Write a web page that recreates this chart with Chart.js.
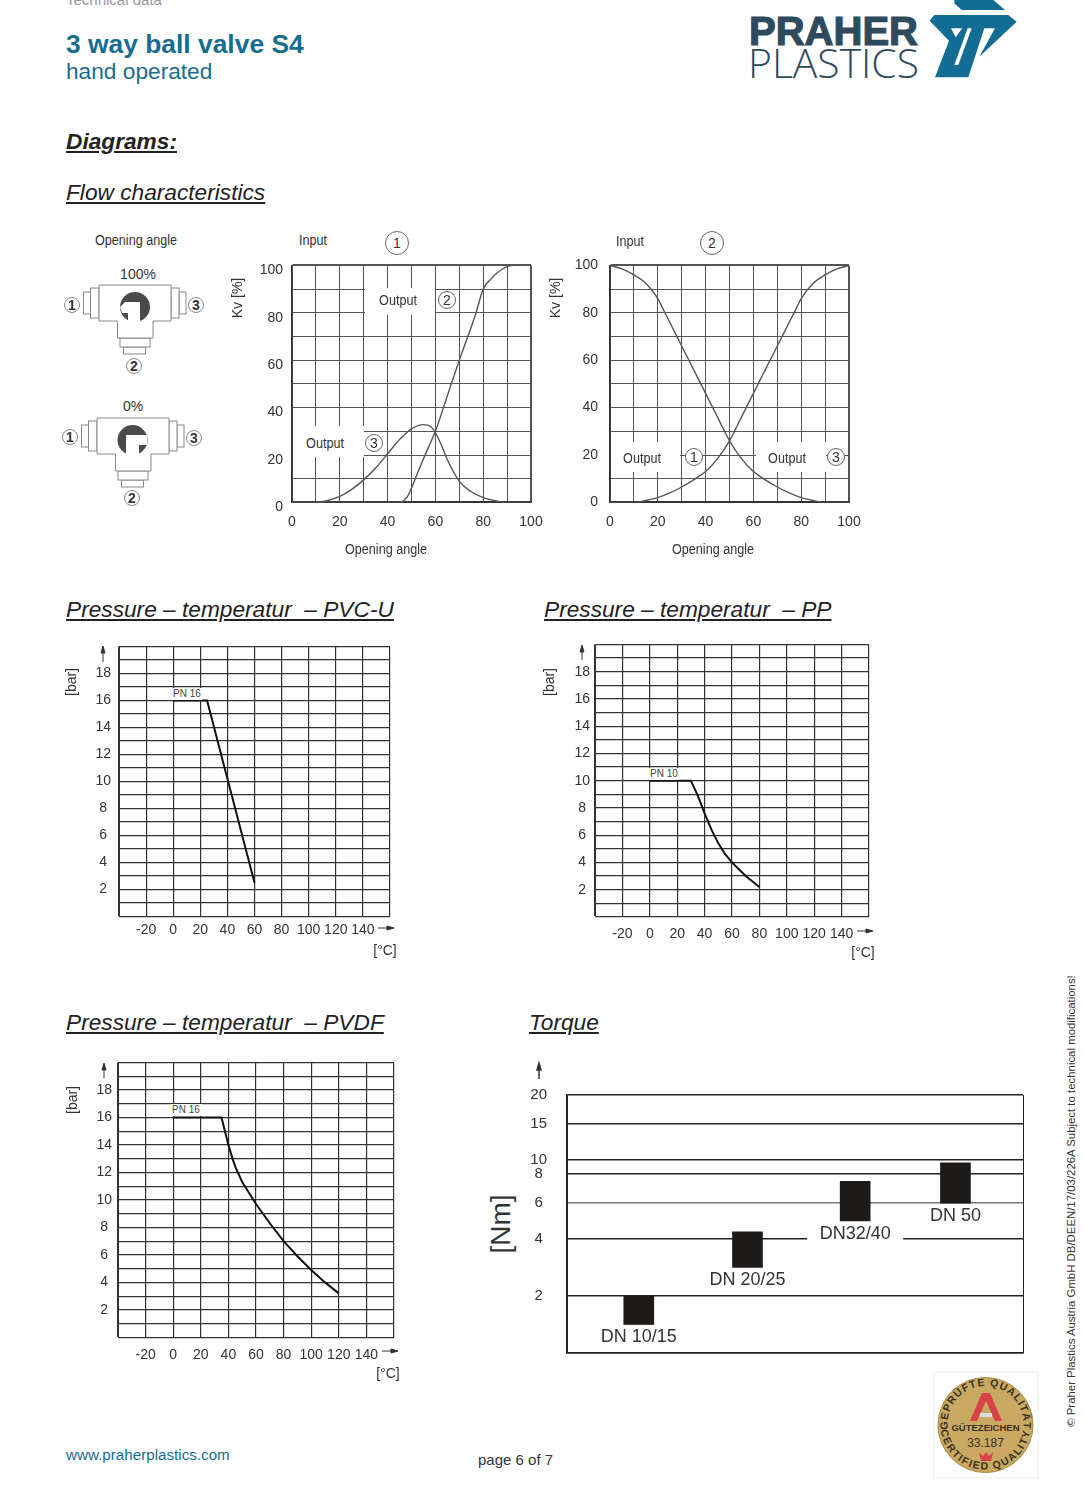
<!DOCTYPE html>
<html>
<head>
<meta charset="utf-8">
<title>3 way ball valve S4</title>
<script src="https://cdn.jsdelivr.net/npm/chart.js@4/dist/chart.umd.js"></script>
<style>
html, body { margin: 0; background: #fff; }
#page { position: relative; width: 1085px; height: 1509px; overflow: hidden; font-family: "Liberation Sans", Arial, sans-serif; color: #333; }
#page canvas { position: absolute; }
.t { position: absolute; white-space: nowrap; line-height: 1; transform: translate(-50%, -50%); }
.l { position: absolute; white-space: nowrap; line-height: 1; }
.head { font-size: 22.7px; font-style: italic; text-decoration: underline; color: #222; }
.small { font-size: 14px; transform: translate(-50%, -50%) scaleX(.9); }
.rot { font-size: 14px; transform: translate(-50%, -50%) rotate(-90deg); }
.box { position: absolute; background: #fff; }
.num { position: absolute; box-sizing: border-box; border: 1px solid #666; border-radius: 50%; background: #fff; text-align: center; font-size: 14px; }
.pn { position: absolute; box-sizing: border-box; padding-left: 1px; background: #fff; font-size: 10px; line-height: 12px; color: #444; white-space: nowrap; }
svg { position: absolute; left: 0; top: 0; }
</style>
</head>
<body>
<div id="page">
  <div class="l" style="left:66px;top:-8px;font-size:15px;color:#999">Technical data</div>
  <div class="l" style="left:66px;top:31px;font-size:26.400px;font-weight:bold;color:#176d90">3 way ball valve S4</div>
  <div class="l" style="left:66px;top:60px;font-size:22.700px;color:#176d90">hand operated</div>
  <div class="l head" style="left:66px;top:130px;font-weight:bold">Diagrams:</div>
  <div class="l head" style="left:66px;top:181px">Flow characteristics</div>
  <div class="l head" style="left:66px;top:598px">Pressure – temperatur&nbsp; – PVC-U</div>
  <div class="l head" style="left:544px;top:598px">Pressure – temperatur&nbsp; – PP</div>
  <div class="l head" style="left:66px;top:1011px">Pressure – temperatur&nbsp; – PVDF</div>
  <div class="l head" style="left:529px;top:1011px">Torque</div>

  <svg width="1085" height="1509" viewBox="0 0 1085 1509">
    <defs>
      <g id="valve" fill="#fff" stroke="#888" stroke-width="1">
        <rect x="83.5" y="292" width="7" height="22"/>
        <rect x="90.5" y="288" width="8.5" height="30"/>
        <rect x="179" y="292" width="7" height="22"/>
        <rect x="171" y="288" width="8" height="30"/>
        <rect x="123.5" y="347" width="22" height="7"/>
        <rect x="120" y="338" width="30" height="9"/>
        <path d="M99 285H171V321H153V338H117.500V321H99Z"/>
      </g>
      <path id="arcTop" d="M948 1430A38 38 0 1 1 1023 1430"/>
      <path id="arcBot" d="M941 1418A45 45 0 1 0 1030 1418"/>
    </defs>

    <use href="#valve"/>
    <circle cx="135" cy="307" r="15" fill="#4a4a4a"/>
    <path d="M125 302H140V322H128V313H122L120 307Z" fill="#fff"/>
    <use href="#valve" x="-2" y="133"/>
    <circle cx="132.500" cy="440" r="15" fill="#4a4a4a"/>
    <path d="M126 435H147V445H139V455H126Z" fill="#fff"/>

    <g fill="#2f4a5c">
      <text x="749" y="45" font-family="Liberation Sans" font-size="41" font-weight="bold" stroke="#2f4a5c" stroke-width="1.200" textLength="169" lengthAdjust="spacingAndGlyphs">PRAHER</text>
      <text x="748" y="78" font-family="Open Sans" font-size="40" font-weight="300" textLength="171" lengthAdjust="spacingAndGlyphs">PLASTICS</text>
    </g>
    <g fill="#136c94" transform="translate(925 0) scale(.3333)">
      <path d="M88 0H205L240 30H110L88 10Z"/>
      <path d="M14 62L28 45H250L275 65L163 170L210 85H178L130 232H30L72 122Z"/>
      <path d="M78 85H112L92 112Z" fill="#fff"/>
      <path d="M128 85H140L100 195H88Z" fill="#fff"/>
    </g>

    <rect x="934" y="1372" width="104" height="106" fill="#fff" stroke="#eee"/>
    <circle cx="985.500" cy="1425" r="47.500" fill="#c9a961" stroke="#a88a45"/>
    <g font-family="Liberation Sans" font-weight="bold" font-size="10.500" fill="#3a3220" text-anchor="middle">
      <text letter-spacing="1"><textPath href="#arcTop" startOffset="50%">GEPRÜFTE QUALITÄT</textPath></text>
      <text letter-spacing="1.500"><textPath href="#arcBot" startOffset="50%">CERTIFIED QUALITY</textPath></text>
      <text x="985.500" y="1431" font-size="9.500">GÜTEZEICHEN</text>
      <text x="985.500" y="1447" font-size="12" font-weight="normal">33.187</text>
    </g>
    <path d="M970 1421L982 1393H990L1002 1421H995L986 1401L977 1421Z" fill="#d8414a"/>
    <path d="M980 1413H992V1417H980Z" fill="#ddd"/>
    <path d="M979 1452L983 1456L986 1452L989 1456L993 1452L991 1461H981Z" fill="#d8414a"/>

    <!-- arrows -->
    <g stroke="#333" fill="#333" stroke-width="1">
      <path d="M103 662V648M103 646L101 653H105Z"/>
      <path d="M582 660V647M582 645L580 652H584Z"/>
      <path d="M104 1078V1065M104 1063L102 1070H106Z"/>
      <path d="M539 1079V1065M539 1063L537 1070H541Z" stroke-width="1.500"/>
      <path d="M378 928H392M394 928L387 926V930Z"/>
      <path d="M857 931H871M873 931L866 929V933Z"/>
      <path d="M382 1351H396M398 1351L391 1349V1353Z"/>
    </g>
  </svg>

  <div class="t small" style="left:136px;top:240px">Opening angle</div>
  <div class="t" style="left:138px;top:274px;font-size:14px">100%</div>
  <div class="t" style="left:133px;top:406px;font-size:14px">0%</div>
  <div class="t small" style="left:313px;top:240px">Input</div>
  <div class="t small" style="left:630px;top:241px">Input</div>
  <div class="t rot" style="left:237px;top:298px">Kv [%]</div>
  <div class="t rot" style="left:555px;top:298px">Kv [%]</div>
  <div class="t small" style="left:386px;top:549px">Opening angle</div>
  <div class="t small" style="left:713px;top:549px">Opening angle</div>
  <div class="t rot" style="left:71px;top:682px">[bar]</div>
  <div class="t rot" style="left:549px;top:682px">[bar]</div>
  <div class="t rot" style="left:72px;top:1100px">[bar]</div>
  <div class="t" style="left:385px;top:950px;font-size:14px">[°C]</div>
  <div class="t" style="left:863px;top:952px;font-size:14px">[°C]</div>
  <div class="t" style="left:388px;top:1373px;font-size:14px">[°C]</div>
  <div class="t rot" style="left:501px;top:1224px;font-size:28px">[Nm]</div>
  <div class="l" style="left:66px;top:1447px;font-size:15.200px;color:#176d90">www.praherplastics.com</div>
  <div class="l" style="left:478px;top:1452px;font-size:15px">page 6 of 7</div>
  <div class="t" style="left:1072px;top:1201px;font-size:11.400px;transform:translate(-50%,-50%) rotate(-90deg)">© Praher Plastics Austria GmbH DB/DEEN/17/03/226A Subject to technical modifications!</div>
</div>

<script>
// values
const in1Output2X = [0, 44, 46, 48, 50, 52, 54, 57, 60, 65, 70, 75, 77, 80, 83, 86, 90, 93, 100];
const in1Output2Y = [0, 0, 0.3, 2, 6, 11, 16, 23, 30, 45, 60, 74, 80, 90, 94, 97, 99.5, 100, 100];
const in1Output3X = [0, 10, 15, 20, 25, 30, 35, 40, 45, 50, 55, 58, 60, 63, 65, 70, 75, 80, 85, 90, 100];
const in1Output3Y = [0, 0, 0.8, 2.5, 5.5, 9.5, 14.5, 20.5, 26.5, 31, 32.8, 32, 29.5, 23, 18, 9, 4.5, 2, 0.7, 0, 0];

const in2Output1X = [0, 5, 10, 15, 20, 22, 25, 30, 35, 40, 45, 50, 55, 60, 65, 70, 75, 80, 85, 90, 100];
const in2Output1Y = [100, 98.5, 96, 92.5, 86, 82, 76, 66, 56, 46, 36, 26, 18.5, 13, 9.5, 6.5, 4, 2, 0.8, 0, 0];
const in2Output3X = [0, 10, 15, 20, 25, 30, 35, 40, 45, 50, 55, 60, 65, 70, 75, 78, 80, 85, 90, 95, 100];
const in2Output3Y = [0, 0, 0.8, 2, 4, 6.5, 9.5, 13, 18.5, 26, 36, 46, 56, 66, 76, 82, 86, 92.5, 96, 98.5, 100];

const pvcTemp = [0, 25, 60];
const pvcBar = [16, 16, 2.5];
const ppTemp = [0, 30, 35, 40, 45, 50, 55, 60, 65, 70, 75, 80];
const ppBar = [10, 10, 8.9, 7.6, 6.4, 5.4, 4.6, 4.0, 3.5, 3.0, 2.6, 2.2];
const pvdfTemp = [0, 35, 38, 40, 43, 45, 50, 55, 60, 70, 80, 90, 100, 110, 120];
const pvdfBar = [16, 16, 14.8, 14, 13, 12.4, 11.3, 10.5, 9.7, 8.3, 7, 5.9, 4.9, 4, 3.2];

const torqueNames = ['DN 10/15', 'DN 20/25', 'DN32/40', 'DN 50'];
const torqueSlots = [0, 1.03, 2.05, 3];
const torqueLow = [1.5, 3, 5, 6];
const torqueHigh = [2, 4.4, 7.5, 9.6];
const torqueTicks = [1, 2, 4, 6, 8, 10, 15, 20];
const torqueStretch = [0, 0.221, 0.442, 0.581, 0.694, 0.748, 0.888, 1]; // the printed axis is hand spaced

const page = document.getElementById('page');

// axis with the uneven spacing of the torque diagram
class StretchScale extends Chart.LinearScale {
    static id = 'stretch';
    getPixelForValue(v) {
        let i = 0;
        while (i < torqueTicks.length - 2 && v > torqueTicks[i + 1]) i++;
        const part = (v - torqueTicks[i]) / (torqueTicks[i + 1] - torqueTicks[i]);
        return this.getPixelForDecimal(torqueStretch[i] + part * (torqueStretch[i + 1] - torqueStretch[i]));
    }
}
Chart.register(StretchScale);

// names under the torque bars
const barNames = {
    id: 'barNames',
    afterDatasetsDraw(chart) {
        const ctx = chart.ctx;
        ctx.save();
        ctx.font = '18px "Liberation Sans"';
        ctx.textAlign = 'center';
        ctx.textBaseline = 'middle';
        chart.getDatasetMeta(0).data.forEach(function(bar, i) {
            const w = i === 2 ? 96 : ctx.measureText(torqueNames[i]).width;
            ctx.fillStyle = '#fff';
            ctx.fillRect(bar.x - w / 2, bar.base + 3, w, 20);
            ctx.fillStyle = '#333';
            ctx.fillText(torqueNames[i], bar.x, bar.base + 13);
        });
        ctx.restore();
    }
};

function points(xs, ys) {
    return xs.map(function(x, i) { return { x: x, y: ys[i] }; });
}

// canvas is resized after the first layout so that the plot area lands on the wanted box
function place(box, config) {
    const canvas = document.createElement('canvas');
    canvas.width = box.w + 80;
    canvas.height = box.h + 60;
    page.insertBefore(canvas, page.querySelector('.t'));
    config.options.animation = false;
    config.options.responsive = false;
    config.options.maintainAspectRatio = false;
    config.options.plugins = { legend: { display: false }, tooltip: { enabled: false } };
    config.options.layout = { padding: { top: 2, right: 24, left: 0, bottom: 0 } };
    config.options.scales.x.afterFit = function(s) { s.height = box.axisH; };
    config.options.scales.y.afterFit = function(s) { s.width = box.axisW; };
    const chart = new Chart(canvas, config);
    for (let i = 0; i < 3; i++) {
        const a = chart.chartArea;
        const w = a.left + box.w + (chart.width - a.right);
        const h = a.top + box.h + (chart.height - a.bottom);
        canvas.style.left = (box.x - a.left) + 'px';
        canvas.style.top = (box.y - a.top) + 'px';
        chart.resize(w, h);
    }
    return chart;
}

function flowChart(box, curves, yShift, yPad) {
    const tick = function(v) { return v % 20 === 0 ? v : ''; };
    const frame = function(c) { return c.tick && c.tick.value === 100 ? 2 : 1; };
    place(Object.assign({ axisW: 50, axisH: 40 }, box), {
        type: 'line',
        data: {
            datasets: curves.map(function(c) {
                return { data: c, borderColor: '#555', borderWidth: 1.4, pointRadius: 0, cubicInterpolationMode: 'monotone' };
            })
        },
        options: {
            scales: {
                x: {
                    type: 'linear', min: 0, max: 100,
                    ticks: { stepSize: 10, autoSkip: false, maxRotation: 0, callback: tick, padding: 11, color: '#333', font: { size: 14 } },
                    grid: { color: '#555', lineWidth: frame, drawTicks: false },
                    border: { color: '#333', width: 2 }
                },
                y: {
                    type: 'linear', min: 0, max: 100,
                    ticks: { stepSize: 10, autoSkip: false, callback: tick, padding: yPad, labelOffset: yShift, color: '#333', font: { size: 14 } },
                    grid: { color: '#555', lineWidth: frame, drawTicks: false },
                    border: { color: '#333', width: 1.5 }
                }
            }
        }
    });
}

function pressureChart(box, data, xPad, yPad) {
    place(Object.assign({ axisW: 50, axisH: 40 }, box), {
        type: 'line',
        data: { datasets: [{ data: data, borderColor: '#111', borderWidth: 2, pointRadius: 0, tension: 0 }] },
        options: {
            scales: {
                x: {
                    type: 'linear', min: -40, max: 160,
                    ticks: {
                        stepSize: 20, autoSkip: false, maxRotation: 0, padding: xPad, color: '#333', font: { size: 14 },
                        callback: function(v) { return v > -40 && v < 160 ? v : ''; }
                    },
                    grid: { color: '#333', lineWidth: 1.2, drawTicks: false },
                    border: { color: '#333' }
                },
                y: {
                    type: 'linear', min: 0, max: 20,
                    ticks: {
                        stepSize: 1, autoSkip: false, padding: yPad, crossAlign: 'center', color: '#333', font: { size: 14 },
                        callback: function(v) { return v % 2 === 0 && v > 0 && v < 20 ? v : ''; }
                    },
                    grid: { color: '#333', lineWidth: 1.2, drawTicks: false },
                    border: { color: '#333' }
                }
            }
        }
    });
}

flowChart({ x: 292, y: 265, w: 239, h: 237 }, [points(in1Output2X, in1Output2Y), points(in1Output3X, in1Output3Y)], 5, 9);
flowChart({ x: 610, y: 265, w: 239, h: 237 }, [points(in2Output1X, in2Output1Y), points(in2Output3X, in2Output3Y)], 0, 12);
pressureChart({ x: 119, y: 646, w: 271, h: 270 }, points(pvcTemp, pvcBar), 5, 8);
pressureChart({ x: 595, y: 644, w: 274, h: 272.5 }, points(ppTemp, ppBar), 9, 5);
pressureChart({ x: 118, y: 1062, w: 276, h: 275 }, points(pvdfTemp, pvdfBar), 9, 6);

place({ x: 567, y: 1095, w: 456, h: 258, axisW: 50, axisH: 12 }, {
    type: 'bar',
    data: {
        datasets: [{
            data: torqueSlots.map(function(s, i) { return { x: s, y: [torqueLow[i], torqueHigh[i]] }; }),
            backgroundColor: '#1e1a18',
            barThickness: 30
        }]
    },
    options: {
        scales: {
            x: {
                type: 'linear', min: -0.68, max: 3.64, offset: false,
                afterBuildTicks: function(s) { s.ticks = [{ value: s.min }, { value: s.max }]; },
                ticks: { display: false },
                grid: { color: '#222', drawTicks: false, offset: false },
                border: { color: '#222', width: 1.5 }
            },
            y: {
                type: 'stretch', min: 1, max: 20,
                afterBuildTicks: function(s) { s.ticks = torqueTicks.map(function(v) { return { value: v }; }); },
                ticks: { padding: 20, crossAlign: 'center', color: '#333', font: { size: 15 }, callback: function(v) { return v === 1 ? '' : v; } },
                grid: {
                    drawTicks: false, lineWidth: 1.5,
                    color: function(c) { return c.tick && c.tick.value === 6 ? '#777' : '#222'; }
                },
                border: { color: '#222', width: 1.5 }
            }
        }
    },
    plugins: [barNames]
});

// white label patches that interrupt the printed grid
function patch(x, y, w, h) {
    const d = document.createElement('div');
    d.className = 'box';
    d.style.cssText = 'left:' + x + 'px;top:' + y + 'px;width:' + w + 'px;height:' + h + 'px';
    page.appendChild(d);
}
function label(text, x, y, cls) {
    const d = document.createElement('div');
    d.className = cls;
    d.textContent = text;
    d.style.left = x + 'px';
    d.style.top = y + 'px';
    page.appendChild(d);
}
function num(text, x, y, r, weight) {
    const d = document.createElement('div');
    d.className = 'num';
    d.textContent = text;
    d.style.cssText = 'left:' + (x - r) + 'px;top:' + (y - r) + 'px;width:' + (2 * r) + 'px;height:' + (2 * r) +
        'px;line-height:' + (2 * r - 2) + 'px;font-weight:' + (weight || 'normal') + (weight ? ';border-width:1.5px;border-color:#888' : '');
    page.appendChild(d);
}

patch(365, 288, 70, 27);
patch(293, 426, 71, 31);
patch(611, 442, 69, 30);
patch(756, 442, 70, 30);
[['Output', 398, 300], ['Output', 325, 443], ['Output', 642, 458], ['Output', 787, 458]].forEach(function(o) {
    label(o[0], o[1], o[2], 't small');
});
num('1', 397, 243, 12); num('2', 712, 243, 12);
num('2', 447, 300, 9); num('3', 374, 443, 9);
num('1', 694, 457, 9); num('3', 836, 457, 9);
num('1', 72, 305, 8, 'bold'); num('3', 196, 305, 8, 'bold'); num('2', 134, 366, 8, 'bold');
num('1', 70, 437, 8, 'bold'); num('3', 194, 438, 8, 'bold'); num('2', 132, 498, 8, 'bold');

[['PN 16', 172, 687.5, 30], ['PN 10', 649, 768, 30], ['PN 16', 171, 1104, 31]].forEach(function(p) {
    const d = document.createElement('div');
    d.className = 'pn';
    d.textContent = p[0];
    d.style.cssText = 'left:' + p[1] + 'px;top:' + p[2] + 'px;width:' + p[3] + 'px';
    page.appendChild(d);
});
</script>
</body>
</html>
